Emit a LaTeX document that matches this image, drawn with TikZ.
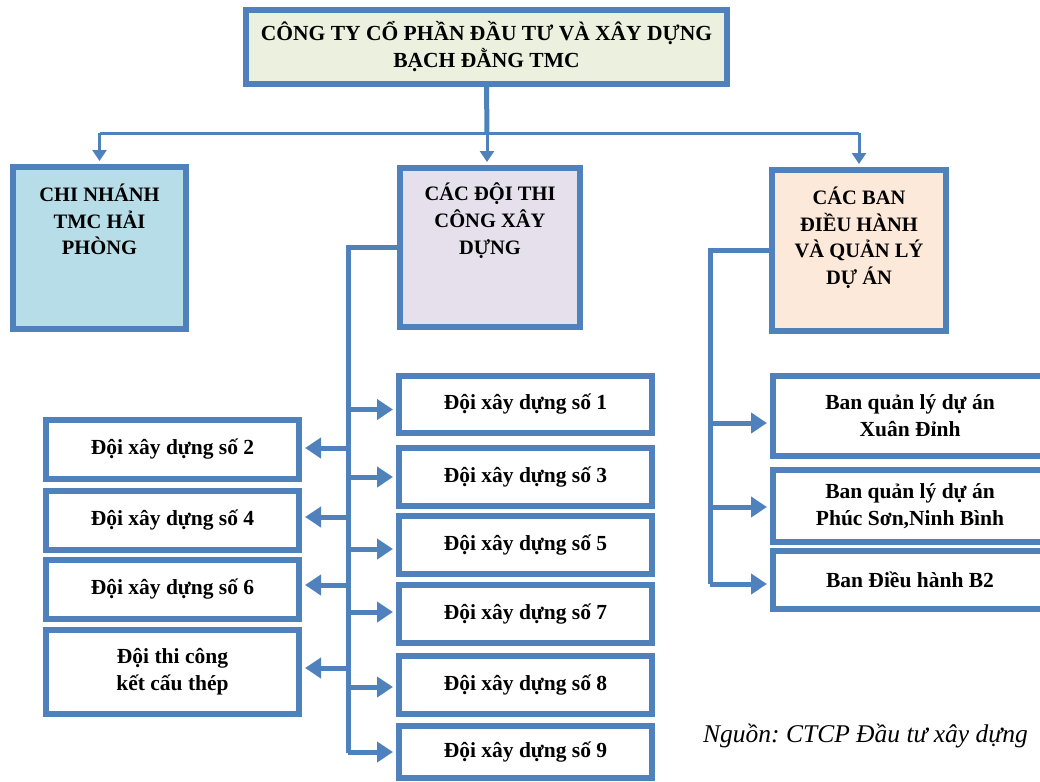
\documentclass[tikz,border=0pt]{standalone}
\usepackage{fontspec}
\setmainfont{Liberation Serif}
\frenchspacing
\usetikzlibrary{arrows.meta}
\definecolor{bordc}{HTML}{4F81BD}
\definecolor{topfill}{HTML}{EBF1DE}
\definecolor{cnfill}{HTML}{B7DEE8}
\definecolor{midfill}{HTML}{E5E0EC}
\definecolor{rfill}{HTML}{FDE9D9}
\tikzset{
  boxbase/.style={draw=bordc, line width=6pt, rectangle, inner sep=0pt, align=center,
    font=\bfseries\fontsize{21.5}{27}\selectfont},
  headtext/.style={anchor=north, inner sep=0pt, align=center,
    font=\bfseries\fontsize{20.5}{26.5}\selectfont},
  conn/.style={draw=bordc, line width=5pt},
  thinconn/.style={draw=bordc, line width=3pt},
  sidearr/.style={draw=bordc, line width=5pt, -{Triangle[length=16pt,width=20pt]}, shorten >=3pt},
  toparr/.style={draw=bordc, line width=3pt, -{Triangle[length=11pt,width=14pt]}, shorten >=3pt},
}
\begin{document}
\begin{tikzpicture}[x=1pt,y=-1pt]
\useasboundingbox (0,0) rectangle (1040,781);
% heading boxes
\node[boxbase, fill=topfill, minimum width=481pt, minimum height=74pt] (top) at (486.5,47)
  {CÔNG TY CỔ PHẦN ĐẦU TƯ VÀ XÂY DỰNG\\BẠCH ĐẰNG TMC};
\node[boxbase, fill=cnfill, minimum width=173pt, minimum height=162pt] (cn) at (99.5,248) {};
\node[boxbase, fill=midfill, minimum width=180pt, minimum height=159pt] (mid) at (490,247.5) {};
\node[boxbase, fill=rfill, minimum width=174pt, minimum height=161pt] (rb) at (859,250.5) {};
\node[headtext] (cnt) at ([yshift=-20pt]cn.north) {CHI NHÁNH\\TMC HẢI\\PHÒNG};
\node[headtext] (midt) at ([yshift=-18pt]mid.north) {CÁC ĐỘI THI\\CÔNG XÂY\\DỰNG};
\node[headtext] (rbt) at ([yshift=-20pt]rb.north) {CÁC BAN\\ĐIỀU HÀNH\\VÀ QUẢN LÝ\\DỰ ÁN};
% top connectors
\coordinate (hb) at (487,133);
\draw[conn] (top.south) -- (hb);
\draw[thinconn] (cn.north |- hb) -- (rb.north |- hb);
\draw[toparr] (cn.north |- hb) -- (cn.north);
\draw[toparr] (hb) -- (hb |- mid.north);
\draw[toparr] (rb.north |- hb) -- (rb.north);
% middle column boxes
\node[boxbase, fill=white, minimum width=253pt, minimum height=57pt] (d1) at (525.5,404.5) {Đội xây dựng số 1};
\node[boxbase, fill=white, minimum width=253pt, minimum height=58pt] (d3) at (525.5,477) {Đội xây dựng số 3};
\node[boxbase, fill=white, minimum width=253pt, minimum height=58pt] (d5) at (525.5,545) {Đội xây dựng số 5};
\node[boxbase, fill=white, minimum width=253pt, minimum height=58pt] (d7) at (525.5,614) {Đội xây dựng số 7};
\node[boxbase, fill=white, minimum width=253pt, minimum height=58pt] (d8) at (525.5,685) {Đội xây dựng số 8};
\node[boxbase, fill=white, minimum width=253pt, minimum height=52pt] (d9) at (525.5,752) {Đội xây dựng số 9};
\node[boxbase, fill=white, minimum width=253pt, minimum height=59pt] (d2) at (172.5,449.5) {Đội xây dựng số 2};
\node[boxbase, fill=white, minimum width=253pt, minimum height=59pt] (d4) at (172.5,520.5) {Đội xây dựng số 4};
\node[boxbase, fill=white, minimum width=253pt, minimum height=59pt] (d6) at (172.5,589.5) {Đội xây dựng số 6};
\node[boxbase, fill=white, minimum width=253pt, minimum height=84pt] (dt) at (172.5,672) {Đội thi công\\kết cấu thép};
% middle trunk
\coordinate (tb) at (348,753);
\draw[conn] (mid.west) -| (tb);
\draw[sidearr] (tb |- d1.west) ++(0,5) -- ([yshift=-5pt]d1.west);
\draw[sidearr] (tb |- d3.west) -- (d3.west);
\draw[sidearr] (tb |- d5.west) ++(0,4) -- ([yshift=-4pt]d5.west);
\draw[sidearr] (tb |- d7.west) ++(0,-2) -- ([yshift=2pt]d7.west);
\draw[sidearr] (tb |- d8.west) ++(0,2) -- ([yshift=-2pt]d8.west);
\draw[sidearr] (tb |- d9.west) -- (d9.west);
\draw[sidearr] (tb |- d2.east) ++(0,-1.5) -- ([yshift=1.5pt]d2.east);
\draw[sidearr] (tb |- d4.east) ++(0,-3.5) -- ([yshift=3.5pt]d4.east);
\draw[sidearr] (tb |- d6.east) ++(0,-4.5) -- ([yshift=4.5pt]d6.east);
\draw[sidearr] (tb |- dt.east) ++(0,-4) -- ([yshift=4pt]dt.east);
% right column
\node[boxbase, fill=white, minimum width=274pt, minimum height=80pt] (b1) at (910,416) {Ban quản lý dự án\\Xuân Đỉnh};
\node[boxbase, fill=white, minimum width=274pt, minimum height=72pt] (b2) at (910,506) {Ban quản lý dự án\\Phúc Sơn,Ninh Bình};
\node[boxbase, fill=white, minimum width=274pt, minimum height=58pt] (b3) at (910,580) {Ban Điều hành B2};
\coordinate (rt) at (710,584);
\draw[conn] (rb.west) -| (rt);
\draw[sidearr] (rt |- b1.west) ++(0,7) -- ([yshift=-7pt]b1.west);
\draw[sidearr] (rt |- b2.west) ++(0,1) -- ([yshift=-1pt]b2.west);
\draw[sidearr] (rt |- b3.west) ++(0,4) -- ([yshift=-4pt]b3.west);
% source
\node[anchor=base west, inner sep=0pt, font=\itshape\fontsize{25.5}{30}\selectfont] (src) at (703,742) {Nguồn: CTCP Đầu tư xây dựng};
\end{tikzpicture}
\end{document}
